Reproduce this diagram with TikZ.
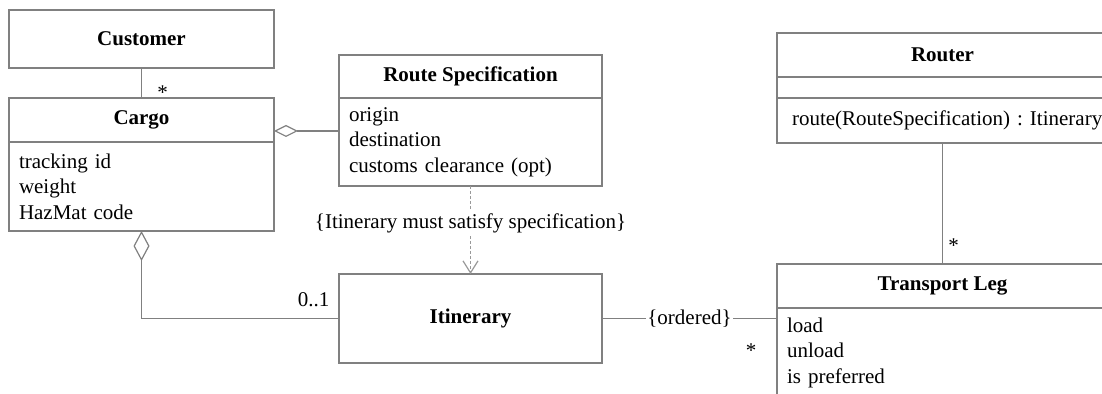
\documentclass[tikz,border=0pt]{standalone}
\usepackage{fontspec}
\setmainfont{Liberation Serif}
\usepackage{tikz}
\usetikzlibrary{arrows.meta,positioning}
\definecolor{umlgray}{HTML}{808080}
\newcommand{\umlfont}{\fontsize{10.5}{12.75}\selectfont}

\begin{document}
\begin{tikzpicture}[x=1pt, y=1pt, font=\umlfont, line width=0.6pt]
  \tikzset{
    head/.style={draw=umlgray, font=\umlfont\bfseries, minimum width=#1, minimum height=22pt, inner sep=0pt, outer sep=0pt},
    body/.style={draw=umlgray, align=left, text width=#1, inner xsep=5pt, inner ysep=0pt, outer sep=0pt},
    link/.style={draw=umlgray},
    dep/.style={draw=umlgray!80, dash pattern=on 1.5pt off 1pt, -{Straight Barb[length=6pt, width=7.5pt]}},
    mult/.style={inner sep=0pt}
  }
  \useasboundingbox (0,0) rectangle (551,-197);
  % classes
  \node[head=132.5pt, minimum height=29pt, anchor=north west] (customer) at (4.5,-5) {Customer};
  \node[head=132.5pt, below=15pt of customer] (cargo) {Cargo};
  \node[body=122.5pt, minimum height=44.5pt, below=0pt of cargo] (cargo-attr) {tracking id\\weight\\HazMat code};
  \node[head=131.5pt, minimum height=21.5pt, anchor=north west] (routespec) at (169.5,-27.5) {Route Specification};
  \node[body=121.5pt, minimum height=44pt, below=0pt of routespec] (routespec-attr) {origin\\destination\\customs clearance (opt)};
  \node[head=131.5pt, minimum height=44.5pt, below=44pt of routespec-attr] (itinerary) {Itinerary};
  \node[head=165.5pt, anchor=north west] (router) at (388.5,-16.5) {Router};
  \node[head=165.5pt, minimum height=10.5pt, below=0pt of router] (router-attr) {};
  \node[body=150.5pt, inner xsep=7.5pt, minimum height=22.5pt, below=0pt of router-attr] (router-ops) {\mbox{route(RouteSpecification) :\ Itinerary}};
  \node[head=165.5pt, below=60.5pt of router-ops] (translege) {Transport Leg};
  \node[body=155.5pt, minimum height=44.5pt, below=0pt of translege] (translege-attr) {load\\unload\\is preferred};
  % associations
  \coordinate (cargo-agg) at ([yshift=5.5pt]cargo.south east);
  \draw[link] (customer) -- (cargo) node[mult, pos=1, anchor=base west, xshift=7.6pt, yshift=-0.9pt] {*};
  \draw[link, {Diamond[open, length=12pt, width=6pt]}-] (cargo-agg) -- (cargo-agg -| routespec-attr.west);
  \draw[link, {Diamond[open, length=15pt, width=8pt]}-] (cargo-attr.south) |- (itinerary.west)
    node[mult, pos=1, anchor=base east, xshift=-4.5pt, yshift=5.75pt] {0..1};
  \draw[dep] (routespec-attr) -- (itinerary)
    node[pos=0.42, fill=white, inner sep=1.5pt] {\{Itinerary must satisfy specification\}};
  \draw[link] (itinerary.east) -- (itinerary.east -| translege.west)
    node[midway, fill=white, inner sep=0.5pt] {\{ordered\}}
    node[mult, pos=1, anchor=base east, xshift=-10pt, yshift=-19.6pt] {*};
  \draw[link] (router-ops) -- (translege) node[mult, pos=1, anchor=base west, xshift=2.6pt, yshift=5.6pt] {*};
\end{tikzpicture}
\end{document}
